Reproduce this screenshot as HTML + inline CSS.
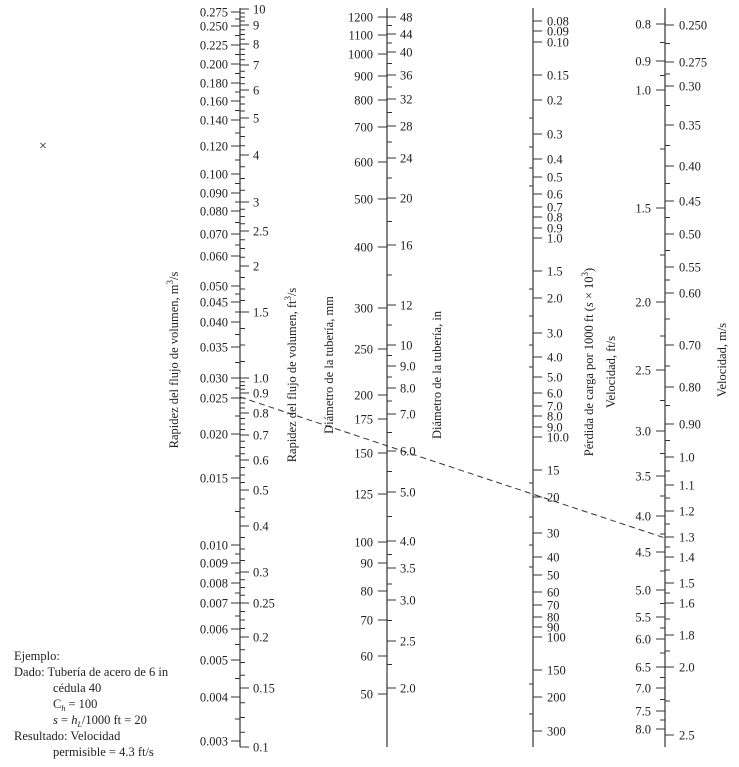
<!DOCTYPE html>
<html><head><meta charset="utf-8"><style>
html,body{margin:0;padding:0;background:#fff;}
svg{display:block;font-family:"Liberation Serif",serif;font-size:12.5px;fill:#222;}
.ex{position:absolute;left:14px;top:648px;font-family:"Liberation Serif",serif;font-size:12.5px;line-height:16px;color:#222;white-space:nowrap;}
.ex div{height:16px;}
.sb{font-size:8px;position:relative;top:3px;line-height:0;}
</style></head><body>
<div style="position:relative;width:739px;height:767px;overflow:hidden">
<svg id="s" width="739" height="767" viewBox="0 0 739 767">
<g stroke="#333" stroke-width="1.2">
<line x1="240" y1="8" x2="240" y2="747"/>
<line x1="387" y1="8" x2="387" y2="747"/>
<line x1="533" y1="8" x2="533" y2="747"/>
<line x1="665" y1="8" x2="665" y2="747"/>
</g>
<line x1="240" y1="397" x2="665" y2="538" stroke="#333" stroke-width="1" stroke-dasharray="6,4"/>
<text x="39" y="150" font-size="14">×</text>
<g id="t"></g>
<g id="labs"></g>
<g font-size="12.5">
<text transform="translate(178,360) rotate(-90)" text-anchor="middle">Rapidez del flujo de volumen, m<tspan dy="-5" font-size="9">3</tspan><tspan dy="5">/s</tspan></text>
<text transform="translate(296,375) rotate(-90)" text-anchor="middle">Rapidez del flujo de volumen, ft<tspan dy="-5" font-size="9">3</tspan><tspan dy="5">/s</tspan></text>
<text transform="translate(333,365) rotate(-90)" text-anchor="middle">Diámetro de la tubería, mm</text>
<text transform="translate(441,375) rotate(-90)" text-anchor="middle">Diámetro de la tubería, in</text>
<text transform="translate(593,362) rotate(-90)" text-anchor="middle">Pérdida de carga por 1000 ft (<tspan font-style="italic">s</tspan> × 10<tspan dy="-5" font-size="9">3</tspan><tspan dy="5">)</tspan></text>
<text transform="translate(615,372) rotate(-90)" text-anchor="middle">Velocidad, ft/s</text>
<text transform="translate(726,360) rotate(-90)" text-anchor="middle">Velocidad, m/s</text>
</g>
</svg>
<div class="ex">
<div>Ejemplo:</div>
<div>Dado: Tubería de acero de 6 in</div>
<div style="padding-left:39px">cédula 40</div>
<div style="padding-left:39px">C<span class="sb"><i>h</i></span> = 100</div>
<div style="padding-left:39px"><i>s</i> = <i>h</i><span class="sb"><i>L</i></span>/1000 ft = 20</div>
<div>Resultado: Velocidad</div>
<div style="padding-left:39px">permisible = 4.3 ft/s</div>
</div>
</div>
<script>
var NS="http://www.w3.org/2000/svg",T=document.getElementById('t');
function ln(x1,y1,x2,y2){var l=document.createElementNS(NS,'line');l.setAttribute('x1',x1);l.setAttribute('y1',y1);l.setAttribute('x2',x2);l.setAttribute('y2',y2);l.setAttribute('stroke','#333');l.setAttribute('stroke-width','1');T.appendChild(l);}
function major(ax,side,ys){ys.forEach(function(y){ln(ax,y,ax+side*9,y);});}
function minor(ax,side,ys,n){for(var i=0;i<ys.length-1;i++){for(var k=1;k<n;k++){var y=ys[i]+(ys[i+1]-ys[i])*k/n;ln(ax,y,ax+side*5,y);}}}
var a1L=[12,26,45,64,83,101,120,146,174,193,211,234,256,286,302,322,347,378,398,434,478,545,563,583,603,629,660,697,741];
var a1R=[9,25,44,65,90,118,155,202,231,266,312,378,393,413,435,460,490,526,572,603,637,688,747];
major(240,-1,a1L);major(240,1,a1R);minor(240,1,a1R,4);minor(240,-1,a1L,2);
var a2L=[17,35,54,76,100,127,162,199,247,308,349,395,419,453,494,542,563,591,620,656,694];
var a2R=[17,34,52,75,99,126,158,198,245,305,345,366,388,414,451,492,541,568,600,641,688];
major(387,-1,a2L);major(387,1,a2R);minor(387,1,a2R,2);
var a3=[21,31,42,75,100,134,159,177,194,207,217,228,238,271,298,333,357,377,393,406,416,427,437,470,497,533,557,575,592,605,617,627,637,670,697,731];
major(533,1,a3);[118,147,168,186,289,316,345,367,483,517,545,567,684,714].forEach(function(y){ln(533,y,529,y)});
var a4L=[24,61,90,208,302,370,431,476,516,552,590,617,639,667,688,711,729];
var a4R=[25,62,86,125,166,201,234,267,293,345,387,424,457,485,511,537,557,583,603,635,667,735];
major(665,-1,a4L);major(665,1,a4R);minor(665,1,a4R,2);minor(665,-1,a4L,2);
var L=document.getElementById('labs');
function tx(x,y,s,anc){var t=document.createElementNS(NS,'text');t.setAttribute('x',x);t.setAttribute('y',y+4.5);if(anc)t.setAttribute('text-anchor',anc);t.textContent=s;L.appendChild(t);}
var d1L=["0.275","0.250","0.225","0.200","0.180","0.160","0.140","0.120","0.100","0.090","0.080","0.070","0.060","0.050","0.045","0.040","0.035","0.030","0.025","0.020","0.015","0.010","0.009","0.008","0.007","0.006","0.005","0.004","0.003"];
var d1R=["10","9","8","7","6","5","4","3","2.5","2","1.5","1.0","0.9","0.8","0.7","0.6","0.5","0.4","0.3","0.25","0.2","0.15","0.1"];
var d2L=["1200","1100","1000","900","800","700","600","500","400","300","250","200","175","150","125","100","90","80","70","60","50"];
var d2R=["48","44","40","36","32","28","24","20","16","12","10","9.0","8.0","7.0","6.0","5.0","4.0","3.5","3.0","2.5","2.0"];
var d3=["0.08","0.09","0.10","0.15","0.2","0.3","0.4","0.5","0.6","0.7","0.8","0.9","1.0","1.5","2.0","3.0","4.0","5.0","6.0","7.0","8.0","9.0","10.0","15","20","30","40","50","60","70","80","90","100","150","200","300"];
var d4L=["0.8","0.9","1.0","1.5","2.0","2.5","3.0","3.5","4.0","4.5","5.0","5.5","6.0","6.5","7.0","7.5","8.0"];
var d4R=["0.250","0.275","0.30","0.35","0.40","0.45","0.50","0.55","0.60","0.70","0.80","0.90","1.0","1.1","1.2","1.3","1.4","1.5","1.6","1.8","2.0","2.5"];
d1L.forEach(function(s,i){tx(228,a1L[i],s,'end')});
d1R.forEach(function(s,i){tx(253,a1R[i],s)});
d2L.forEach(function(s,i){tx(373,a2L[i],s,'end')});
d2R.forEach(function(s,i){tx(400,a2R[i],s)});
d3.forEach(function(s,i){tx(547,a3[i],s)});
d4L.forEach(function(s,i){tx(651,a4L[i],s,'end')});
d4R.forEach(function(s,i){tx(679,a4R[i],s)});
</script>
</body></html>
